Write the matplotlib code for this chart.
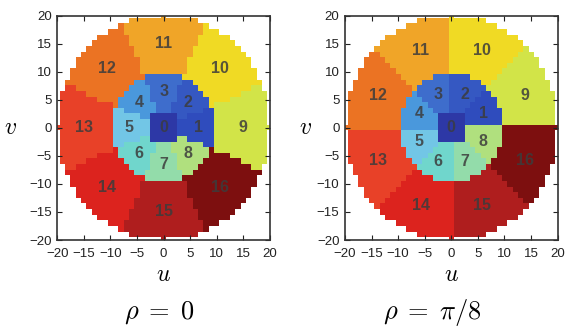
import numpy as np
import matplotlib
matplotlib.use("Agg")
import matplotlib.pyplot as plt
from matplotlib.colors import ListedColormap

plt.rcParams['font.family'] = ['Liberation Sans', 'DejaVu Sans']
plt.rcParams['mathtext.fontset'] = 'cm'

# geometry of the partition (grid units)
grid_half = 20
r_center = 3.0      # central square region 0
r_inner = 9.5       # inner ring, regions 1-8
r_outer = 20.0      # outer ring, regions 9-16
n_sectors = 8
rhos = [0.0, np.pi / 8]
captions = [r'$\rho\;=\;0$', r'$\rho\;=\;\pi/8$']

region_ids = list(range(17))
# colours (faded jet)
region_colors = ['#2d38a6', '#2f4cbd', '#3558c2', '#3e6dcc', '#4a98dc', '#72c6e6',
                 '#70d6cc', '#93dcaa', '#b0e07e', '#d2e448', '#f0da24', '#f0a528',
                 '#eb7323', '#e84128', '#dc231e', '#af1e1e', '#7d0f0f']
label_r_inner = 6.5
label_r_outer = 15.0
ticks = [-20, -15, -10, -5, 0, 5, 10, 15, 20]


def region_map(rho):
    u = np.arange(-grid_half, grid_half + 1)
    uu, vv = np.meshgrid(u, u)
    r = np.hypot(uu, vv)
    th = np.arctan2(vv, uu)
    x = (th - rho + np.pi / n_sectors) / (2 * np.pi / n_sectors)
    k = (np.ceil(np.round(x, 9)) - 1).astype(int) % n_sectors
    lab = np.full(r.shape, np.nan)
    lab[r <= r_outer] = 1 + n_sectors + k[r <= r_outer]
    lab[r <= r_inner] = 1 + k[r <= r_inner]
    lab[r < r_center] = 0
    return np.ma.masked_invalid(lab)


cmap = ListedColormap(region_colors)
cmap.set_bad('white')

fig = plt.figure(figsize=(5.73, 3.29), dpi=100)
ax_left = [0.100, 0.602]
vlabel_x = [-0.22, -0.185]
caption_x = [0.277, 0.754]

for i, rho in enumerate(rhos):
    ax = fig.add_axes([ax_left[i], 0.2705, 0.371, 0.682])
    lab = region_map(rho)
    ax.imshow(lab, cmap=cmap, vmin=-0.5, vmax=16.5, origin='lower',
              extent=[-grid_half - 0.5, grid_half + 0.5, -grid_half - 0.5, grid_half + 0.5],
              interpolation='nearest', aspect='auto')
    ax.set_xlim(-20, 20)
    ax.set_ylim(-20, 20)

    # region numbers at the sector centres
    ax.text(0, 0, '0', ha='center', va='center', fontsize=11.5,
            fontweight='bold', color='#3c3c3c', alpha=0.8)
    for k in range(n_sectors):
        a = rho + k * 2 * np.pi / n_sectors
        ax.text(label_r_inner * np.cos(a), label_r_inner * np.sin(a), str(region_ids[1 + k]),
                ha='center', va='center', fontsize=11.5, fontweight='bold',
                color='#3c3c3c', alpha=0.85)
        ax.text(label_r_outer * np.cos(a), label_r_outer * np.sin(a),
                str(region_ids[1 + n_sectors + k]),
                ha='center', va='center', fontsize=11.5, fontweight='bold',
                color='#3c3c3c', alpha=0.85)

    ax.set_xticks(ticks)
    ax.set_yticks(ticks)
    ax.tick_params(direction='in', top=True, right=True, length=3.5, width=0.8,
                   labelsize=9.5, colors='#222222')
    ax.tick_params(axis='x', pad=6)
    ax.tick_params(axis='y', pad=4)
    for s in ax.spines.values():
        s.set_linewidth(1.2)
        s.set_color('#333333')

    ax.set_xlabel('$u$', fontsize=17, va='center')
    ax.xaxis.set_label_coords(0.5, -0.155)
    ax.set_ylabel('$v$', fontsize=17, rotation=0, va='center', ha='center')
    ax.yaxis.set_label_coords(vlabel_x[i], 0.5)

    fig.text(caption_x[i], 0.049, captions[i], ha='center', va='center', fontsize=19)

fig.savefig('out.png', dpi=100)
